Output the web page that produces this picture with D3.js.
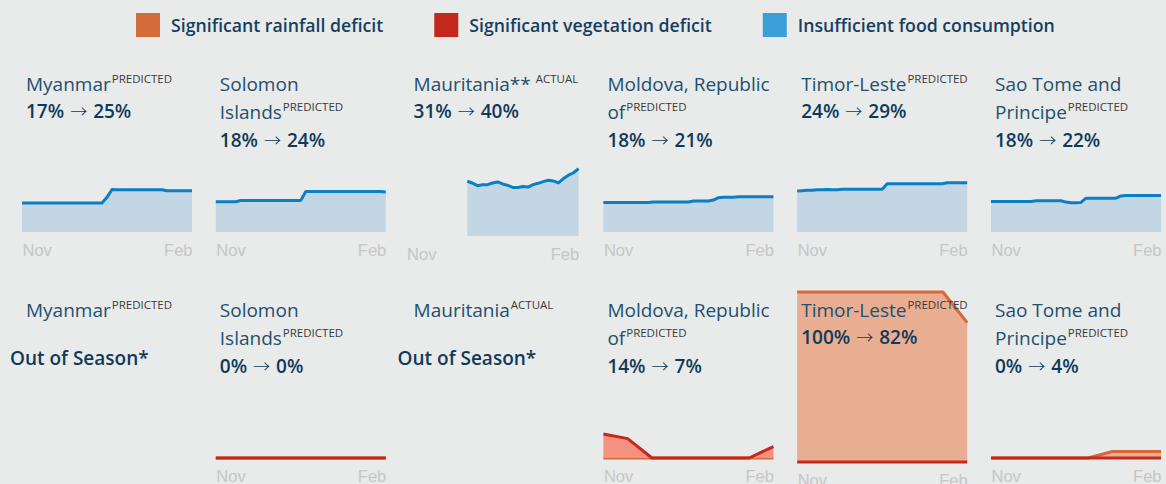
<!DOCTYPE html>
<html>
<head>
<meta charset="utf-8">
<script src="https://cdn.jsdelivr.net/npm/d3@7"></script>
<style>
  body { margin: 0; background: #e9eaea; }
  svg { display: block; font-family: "Open Sans", sans-serif; }
</style>
</head>
<body>
<div id="chart"></div>
<script>
// ---- data ----
const countries = ['Myanmar', 'Solomon Islands', 'Mauritania', 'Moldova, Republic of', 'Timor-Leste', 'Sao Tome and Principe']
const foodNotes = ['', '', '**', '', '', '']
const foodStatus = ['PREDICTED', 'PREDICTED', 'ACTUAL', 'PREDICTED', 'PREDICTED', 'PREDICTED']
const climateStatus = ['PREDICTED', 'PREDICTED', 'ACTUAL', 'PREDICTED', 'PREDICTED', 'PREDICTED']
const foodChange = [[17, 25], [18, 24], [31, 40], [18, 21], [24, 29], [18, 22]]
const climateChange = [null, [0, 0], null, [14, 7], [100, 82], [0, 4]]
const months = ['Nov', 'Feb']
const legendLabels = ['Significant rainfall deficit', 'Significant vegetation deficit', 'Insufficient food consumption']

// insufficient food consumption, % of population (Nov -> Feb)
const foodMyanmar = [17, 17, 17, 17, 17, 17, 17, 17, 17, 17, 17, 17, 17, 17, 17, 17, 17, 20.4, 25,
    24.9, 24.9, 24.9, 24.9, 24.9, 24.9, 24.9, 24.9, 24.9, 24.9, 24.3, 24.3, 24.3, 24.3, 24.3, 24.3]
const foodSolomon = [17.8, 17.8, 17.8, 17.8, 17.8, 18.6, 18.6, 18.6, 18.6, 18.6, 18.6, 18.6, 18.6, 18.6, 18.6, 18.6, 18.6, 18.6,
    23.8, 23.8, 23.8, 23.8, 23.8, 23.8, 23.8, 23.8, 23.8, 23.8, 23.8, 23.8, 23.8, 23.8, 23.8, 23.8, 23.6]
const foodMauritania = [null, null, null, null, null, null, null, null, null, null, null, null,
    32.2, 31.2, 29.6, 30.2, 30.2, 31.2, 31.8, 30.6, 29.8, 28.6, 28.5, 29.1, 28.8, 30.2, 31, 32, 32.8, 32.4, 31.2, 33.8, 35.8, 37.2, 39.6]
const foodMoldova = [17.4, 17.4, 17.4, 17.4, 17.4, 17.4, 17.4, 17.4, 17.4, 17.4, 17.7, 17.7, 17.7, 17.7, 17.7, 17.7, 17.7, 17.7,
    18.2, 18.2, 18.2, 18.2, 18.8, 20.2, 20.5, 20.5, 20.5, 20.8, 20.8, 20.8, 20.8, 20.8, 20.8, 20.8, 20.8]
const foodTimor = [24.1, 24.3, 24.5, 24.6, 24.8, 24.8, 25, 24.8, 24.8, 25.2, 25.2, 25.2, 25.2, 25.2, 25.2, 25.2, 25.2, 25.2,
    28.4, 28.4, 28.4, 28.4, 28.4, 28.4, 28.4, 28.4, 28.4, 28.4, 28.4, 28.4, 29, 29, 29, 29, 29]
const foodSaoTome = [18, 18, 18, 18, 18, 18, 18, 18, 18, 18.4, 18.4, 18.4, 18.4, 18.4, 18.4, 17.6, 17.2, 17.2, 17.4,
    19.9, 19.9, 19.9, 19.9, 19.9, 19.9, 19.9, 21.2, 21.4, 21.4, 21.4, 21.4, 21.4, 21.4, 21.4, 21.4]

// significant rainfall deficit, % of area
const rainSolomon = [0, 0, 0, 0, 0, 0, 0, 0]
const rainMoldova = [0, 0, 0, 0, 0, 0, 0, 0]
const rainTimor = [100, 100, 100, 100, 100, 100, 100, 82]
const rainSaoTome = [0, 0, 0, 0, 0, 3.8, 3.8, 3.8]

// significant vegetation deficit, % of area
const vegSolomon = [0, 0, 0, 0, 0, 0, 0, 0]
const vegMoldova = [14.1, 11.4, 0, 0, 0, 0, 0, 6.7]
const vegTimor = [0, 0, 0, 0, 0, 0, 0, 0]
const vegSaoTome = [0, 0, 0, 0, 0, 0, 0, 0]

const foodSeries = [foodMyanmar, foodSolomon, foodMauritania, foodMoldova, foodTimor, foodSaoTome]
const rainSeries = [null, rainSolomon, null, rainMoldova, rainTimor, rainSaoTome]
const vegSeries = [null, vegSolomon, null, vegMoldova, vegTimor, vegSaoTome]

// ---- layout ----
const W = 1166, H = 484
const colX0 = 22, colStep = 193.8
const chartW = 170, chartH = 170
const rowTitleY = [91, 317]
const rowBase = [232, 458]
const lineH = 28
const titleSize = 19, supSize = 11.5, numSize = 19
// a couple of panels sit slightly off the grid in the original
const chartNudge = {'0-2': {dx: -3, dy: 4, dw: 2}, '1-4': {dx: 0, dy: 4, dw: 0}}

const colors = {
    rain: '#d4693a', rainFill: '#e9ae91',
    veg: '#c6281b', vegFill: '#f5917f',
    food: '#0b7fc3', foodFill: '#c2d7e3',
    title: '#22506f', num: '#0e3a5a', sup: '#3a3a3a', axis: '#c6c6c6'
}
const swatchColors = ['#d36b3b', '#c4281c', '#3b9fd8']

const svg = d3.select('#chart').append('svg')
    .attr('width', W)
    .attr('height', H)

const measurer = svg.append('text').attr('visibility', 'hidden')
function textWidth(str, size, weight) {
    measurer.attr('font-size', size).attr('font-weight', weight || 400).text(str)
    return measurer.node().getComputedTextLength()
}

function wrapLines(name, sup, maxW) {
    const words = name.split(' ')
    const lines = []
    let cur = ''
    words.forEach(w => {
        const test = cur ? cur + ' ' + w : w
        if (cur && textWidth(test, titleSize) > maxW) { lines.push(cur); cur = w }
        else cur = test
    })
    lines.push(cur)
    // the superscript has to fit on the last line too
    const last = lines[lines.length - 1]
    if (textWidth(last, titleSize) + textWidth(sup, supSize) > maxW) {
        const parts = last.split(' ')
        if (parts.length > 1) {
            lines[lines.length - 1] = parts.slice(0, -1).join(' ')
            lines.push(parts[parts.length - 1])
        }
    }
    return lines
}

// ---- legend ----
let lx = 136
legendLabels.forEach((label, i) => {
    svg.append('rect')
        .attr('x', lx).attr('y', 13)
        .attr('width', 24).attr('height', 24)
        .attr('fill', swatchColors[i])
    const t = svg.append('text')
        .attr('x', lx + 35).attr('y', 31.5)
        .attr('font-size', 17.7)
        .attr('font-weight', 600)
        .attr('fill', '#163f5f')
        .text(label)
    lx += 35 + t.node().getComputedTextLength() + 51
})

function drawAxis(chart, w) {
    const xm = d3.scalePoint().domain(months).range([0, w])
    const ax = chart.append('g')
        .attr('transform', `translate(0,${chartH})`)
        .call(d3.axisBottom(xm).tickSize(0).tickPadding(12))
    ax.select('.domain').remove()
    ax.selectAll('text')
        .attr('font-family', '"Liberation Sans", Arial, sans-serif')
        .attr('font-size', 16.5)
        .attr('fill', colors.axis)
        .attr('text-anchor', (d, k) => k === 0 ? 'start' : 'end')
}

function drawSeries(chart, data, w, stroke, fill) {
    const x = d3.scaleLinear().domain([0, data.length - 1]).range([0, w])
    const y = d3.scaleLinear().domain([0, 100]).range([chartH, 0])
    chart.append('path')
        .datum(data)
        .attr('fill', fill)
        .attr('d', d3.area()
            .defined(d => d != null)
            .x((d, k) => x(k))
            .y0(y(0))
            .y1(d => y(d)))
    chart.append('path')
        .datum(data)
        .attr('fill', 'none')
        .attr('stroke', stroke)
        .attr('stroke-width', 3)
        .attr('stroke-linejoin', 'round')
        .attr('d', d3.line()
            .defined(d => d != null)
            .x((d, k) => x(k))
            .y(d => y(d)))
}

function drawPanel(row, i) {
    const cx = colX0 + i * colStep
    const nudge = chartNudge[row + '-' + i] || {dx: 0, dy: 0, dw: 0}
    const w = chartW + nudge.dw
    const chart = svg.append('g')
        .attr('transform', `translate(${cx + nudge.dx},${rowBase[row] - chartH + nudge.dy})`)

    if (row === 0) {
        drawSeries(chart, foodSeries[i], w, colors.food, colors.foodFill)
        drawAxis(chart, w)
    } else if (rainSeries[i]) {
        drawSeries(chart, rainSeries[i], w, colors.rain, colors.rainFill)
        drawSeries(chart, vegSeries[i], w, colors.veg, colors.vegFill)
        drawAxis(chart, w)
    }

    // title
    const name = row === 0 ? countries[i] + foodNotes[i] : countries[i]
    const sup = row === 0 ? foodStatus[i] : climateStatus[i]
    const lines = wrapLines(name, sup, 176)
    const tx = cx + 4
    const ty = rowTitleY[row]
    const title = svg.append('text')
        .attr('x', tx).attr('y', ty)
        .attr('font-size', titleSize)
        .attr('fill', colors.title)
    lines.forEach((ln, k) => {
        title.append('tspan')
            .attr('x', tx)
            .attr('y', ty + k * lineH)
            .text(ln)
    })
    title.append('tspan')
        .attr('font-size', supSize)
        .attr('fill', colors.sup)
        .attr('dx', name.endsWith('*') ? 5 : 1)
        .attr('dy', -8)
        .text(sup)

    const change = row === 0 ? foodChange[i] : climateChange[i]
    if (change) {
        const num = svg.append('text')
            .attr('x', tx)
            .attr('y', ty + lines.length * lineH - (lines.length === 1 ? 1 : 0))
            .attr('font-size', numSize)
            .attr('font-weight', 600)
            .attr('fill', colors.num)
        num.append('tspan').text(change[0] + '%')
        num.append('tspan')
            .attr('dx', 6)
            .attr('font-family', '"Noto Sans CJK JP", sans-serif')
            .attr('font-weight', 300)
            .attr('font-size', 17)
            .text('→')
        num.append('tspan').attr('dx', 6).text(change[1] + '%')
    } else {
        svg.append('text')
            .attr('x', cx - 12)
            .attr('y', ty + 48)
            .attr('font-size', numSize)
            .attr('font-weight', 600)
            .attr('fill', colors.num)
            .text('Out of Season*')
    }
}

countries.forEach((c, i) => drawPanel(0, i))
countries.forEach((c, i) => drawPanel(1, i))
</script>
</body>
</html>
